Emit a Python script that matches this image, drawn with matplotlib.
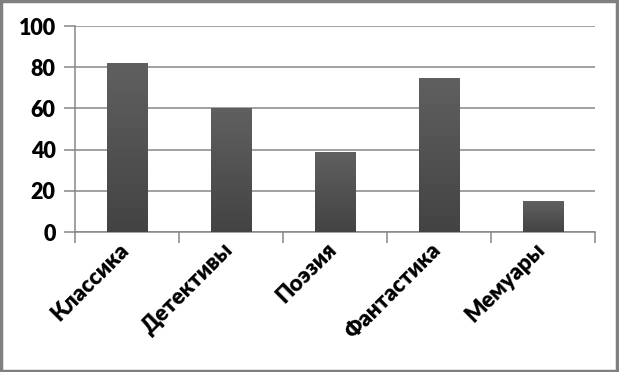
import matplotlib.pyplot as plt
import numpy as np
from matplotlib.patches import Rectangle
from matplotlib.transforms import ScaledTranslation

plt.rcParams['font.family'] = ['Lato', 'DejaVu Sans']

genres = ['Классика', 'Детективы', 'Поэзия', 'Фантастика', 'Мемуары']
counts = [82, 60, 39, 75, 15]
yticks = [0, 20, 40, 60, 80, 100]

fig = plt.figure(figsize=(6.19, 3.72), dpi=100)
ax = fig.add_axes([0.1212, 0.3763, 0.8400, 0.5538])

x = np.arange(len(genres))
bars = ax.bar(x, counts, width=0.39, color='#505050', zorder=3)

# vertical gradient inside each bar
grad = np.linspace(0, 1, 256).reshape(-1, 1)
cmap = plt.matplotlib.colors.LinearSegmentedColormap.from_list('g', ['#434343', '#606060'])
for b in bars:
    x0, y0 = b.get_x(), b.get_y()
    im = ax.imshow(grad, cmap=cmap, origin='lower', aspect='auto',
                   extent=[x0, x0 + b.get_width(), y0, y0 + b.get_height()], zorder=4)
    im.set_clip_path(b)

ax.set_xlim(-0.5, len(genres) - 0.5)
ax.set_ylim(0, 100)
ax.set_yticks(yticks)
ax.set_yticklabels([str(v) for v in yticks], fontsize=15.5, fontweight='heavy')
ax.yaxis.grid(True, color='#868686', linewidth=1.1, zorder=0)

ax.set_xticks(np.arange(len(genres) + 1) - 0.5)
ax.set_xticklabels([])
ax.set_xticks(x, minor=True)
ax.set_xticklabels(genres, minor=True, rotation=45, ha='right', va='top',
                   fontsize=16, fontweight='heavy')
ax.tick_params(axis='x', which='minor', length=0, pad=5)
ax.tick_params(axis='x', which='major', length=8, width=1.1, color='#868686')
ax.tick_params(axis='y', length=8, width=1.1, color='#868686', pad=6)
for lbl in ax.get_xticklabels(minor=True):
    lbl.set_transform(lbl.get_transform() + ScaledTranslation(6 / 100, 0, fig.dpi_scale_trans))

for s in ['top', 'right']:
    ax.spines[s].set_visible(False)
for s in ['left', 'bottom']:
    ax.spines[s].set_color('#868686')
    ax.spines[s].set_linewidth(1.1)

fig.patches.append(Rectangle((0.002, 0.003), 0.994, 0.994, transform=fig.transFigure,
                             fill=False, edgecolor='#808080', linewidth=2.5))

fig.savefig('out.png', dpi=100)
